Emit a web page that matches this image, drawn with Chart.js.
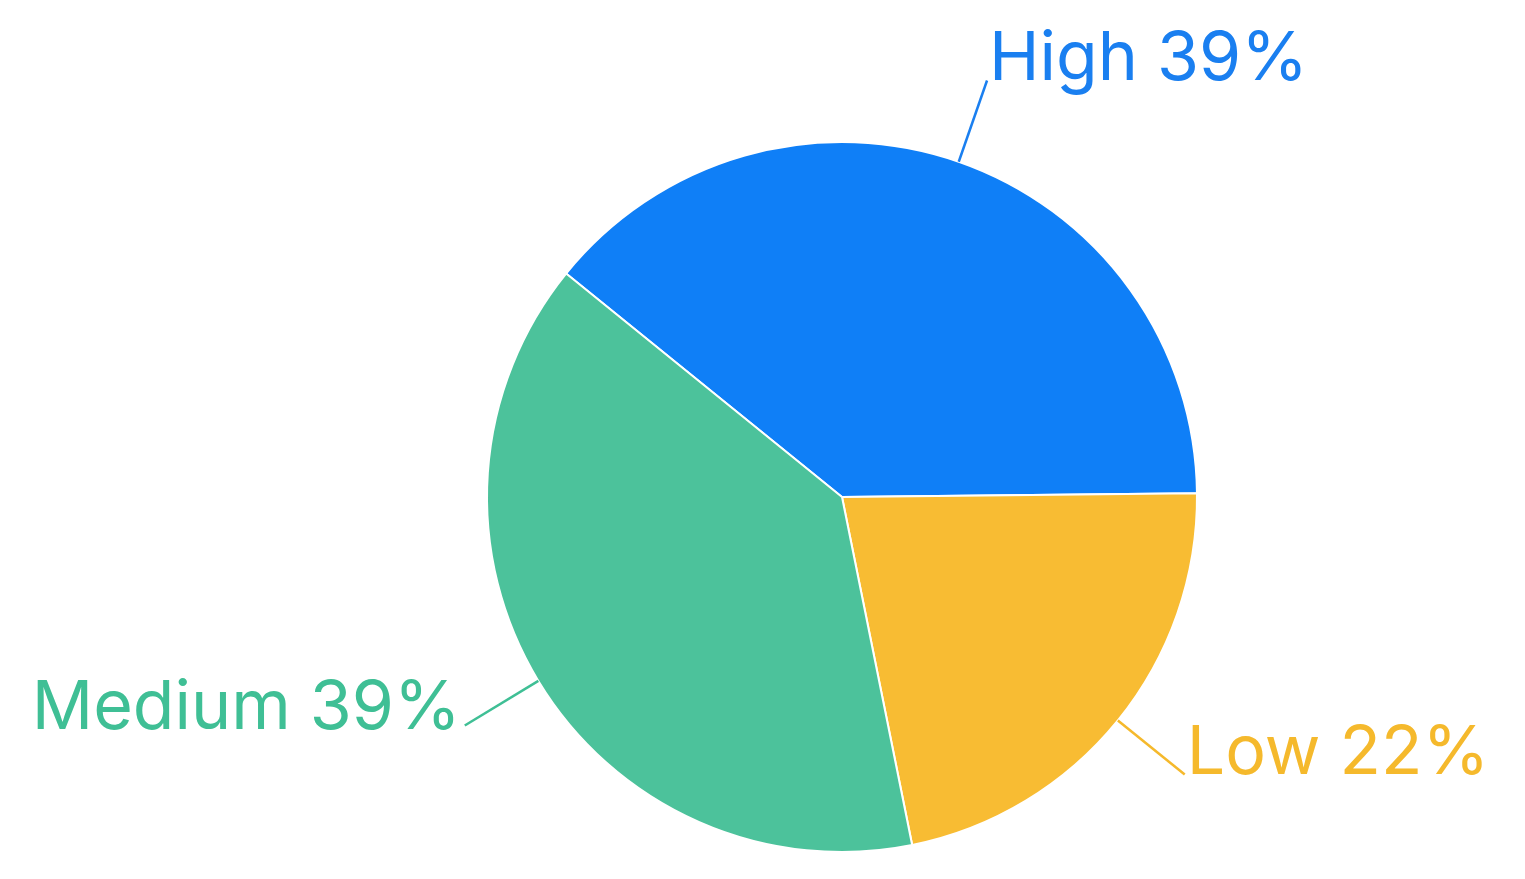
<!DOCTYPE html>
<html lang="en">
<head>
  <meta charset="UTF-8" />
  <title>Priority Pie</title>
  <script src="https://cdn.jsdelivr.net/npm/chart.js"></script>
  <style>
    html, body {
      margin: 0;
      padding: 0;
      background: #ffffff;
      overflow: hidden;
    }
    .wrap {
      width: 1525px;
      height: 879px;
    }
  </style>
</head>
<body>
  <div class="wrap">
    <canvas id="pie" width="1525" height="879"></canvas>
  </div>

  <script>
    const labels = ['High', 'Low', 'Medium'];
    const values = [39, 22, 39];
    const sliceColors = ['#0f7ff7', '#f8bc33', '#4cc29b'];
    const textColors = ['#1a7ff0', '#f5b92c', '#3fbf95'];

    // leader lines + labels outside the slices
    const outerLabels = {
      id: 'outerLabels',
      afterDatasetsDraw(chart) {
        const ctx = chart.ctx;
        const meta = chart.getDatasetMeta(0);
        const total = values.reduce((a, b) => a + b, 0);
        ctx.save();
        ctx.font = '400 68px Inter, "Noto Sans", sans-serif';
        ctx.textBaseline = 'alphabetic';
        meta.data.forEach((arc, i) => {
          const p = arc.getProps(['x', 'y', 'startAngle', 'endAngle', 'outerRadius'], true);
          const mid = (p.startAngle + p.endAngle) / 2;
          const cos = Math.cos(mid), sin = Math.sin(mid);
          const x1 = p.x + cos * p.outerRadius;
          const y1 = p.y + sin * p.outerRadius;
          const x2 = p.x + cos * (p.outerRadius + 86);
          const y2 = p.y + sin * (p.outerRadius + 86);
          ctx.strokeStyle = textColors[i];
          ctx.lineWidth = 2.5;
          ctx.beginPath();
          ctx.moveTo(x1, y1);
          ctx.lineTo(x2, y2);
          ctx.stroke();
          const pct = Math.round(values[i] / total * 100);
          const text = labels[i] + ' ' + pct + '%';
          ctx.fillStyle = textColors[i];
          if (cos >= 0) {
            ctx.textAlign = 'left';
            ctx.fillText(text, x2 + 2, y2 - 1);
          } else {
            ctx.textAlign = 'right';
            ctx.fillText(text, x2 - 4, y2 + 4);
          }
        });
        ctx.restore();
      }
    };

    new Chart(document.getElementById('pie'), {
      type: 'pie',
      data: {
        labels: labels,
        datasets: [{
          data: values,
          backgroundColor: sliceColors,
          borderColor: '#ffffff',
          borderWidth: 2
        }]
      },
      options: {
        responsive: false,
        animation: false,
        rotation: -51,
        layout: {
          padding: { left: 486, right: 327, top: 141, bottom: 26 }
        },
        plugins: {
          legend: { display: false },
          tooltip: { enabled: false }
        }
      },
      plugins: [outerLabels]
    });
  </script>
</body>
</html>
